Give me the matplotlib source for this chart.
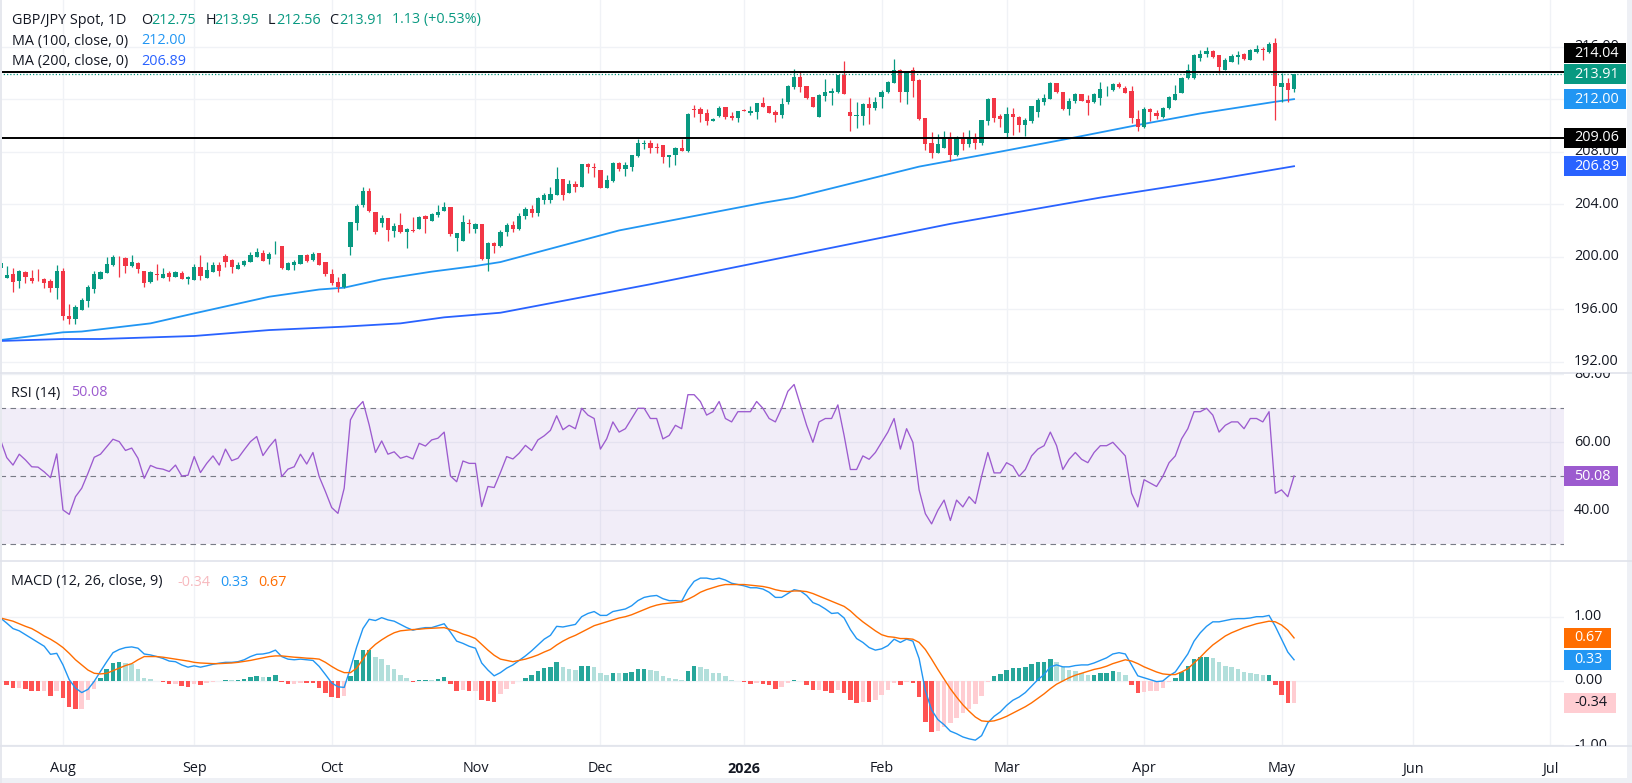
import matplotlib.pyplot as plt
import matplotlib.patches as mpatches
from matplotlib.lines import Line2D
from matplotlib.transforms import IdentityTransform, Bbox, TransformedBbox
import numpy as np
import pandas as pd

plt.rcParams['font.family'] = ['Open Sans', 'DejaVu Sans']

W, H = 1632, 783
DPI = 100
RIGHT = 1564          # right edge of the panes, px
FS = 10.4
TXT = '#131722'
GREEN = '#089981'
RED = '#f23645'

# ---------------- data (daily bars, 2025-07-18 .. 2026-05-05) ----------------
opens = [
    199.11, 198.40, 198.68, 198.15, 198.86, 198.37, 198.22, 198.30, 198.17, 197.64,
    198.91, 195.48, 195.23, 195.96, 196.65, 197.56, 198.30, 198.78, 199.36, 199.92,
    199.90, 199.29, 199.52, 198.93, 198.07, 198.68, 198.40, 198.75, 198.48, 198.75,
    198.27, 198.25, 199.21, 198.40, 198.86, 199.36, 200.05, 199.74, 199.08, 199.36,
    199.59, 199.95, 200.25, 199.85, 200.40, 200.81, 199.01, 199.39, 199.46, 200.13,
    199.74, 200.25, 199.59, 198.68, 198.10, 197.66, 200.76, 202.59, 203.90, 205.00,
    203.38, 202.59, 202.92, 201.98, 202.41, 201.90, 202.03, 202.08, 203.12, 202.74,
    203.17, 203.50, 203.76, 201.40, 201.22, 202.59, 202.13, 202.49, 199.82, 201.07,
    200.84, 201.85, 202.40, 202.10, 203.10, 203.60, 203.30, 204.30, 204.35, 204.70,
    205.92, 204.87, 205.53, 205.33, 207.06, 206.83, 206.60, 205.25, 205.79, 207.11,
    206.65, 206.85, 207.69, 208.61, 208.66, 208.33, 208.50, 207.57, 207.72, 208.28,
    208.07, 211.22, 211.27, 210.94, 210.36, 210.69, 211.40, 210.74, 210.56, 211.17,
    210.92, 211.04, 211.73, 211.47, 211.04, 210.79, 211.81, 212.95, 213.71, 213.00,
    212.19, 210.66, 212.24, 212.49, 212.52, 213.84, 210.99, 210.74, 210.74, 211.63,
    211.35, 212.19, 212.54, 213.25, 214.22, 212.57, 214.22, 213.46, 210.54, 208.63,
    207.92, 208.30, 209.14, 207.74, 208.96, 208.58, 209.06, 208.68, 210.36, 212.06,
    210.71, 209.39, 210.86, 210.61, 210.02, 210.35, 211.04, 211.80, 212.00, 213.20,
    212.56, 211.24, 211.88, 212.39, 211.93, 211.75, 212.11, 212.82, 212.69, 213.15,
    212.87, 212.61, 210.46, 209.90, 211.24, 210.91, 210.61, 211.29, 211.93, 212.44,
    213.58, 213.63, 215.15, 215.43, 215.66, 215.36, 214.21, 214.85, 215.23, 215.43,
    214.97, 215.59, 215.81, 215.61, 216.30, 212.94, 213.25, 212.75,
]
highs = [
    199.80, 199.29, 199.11, 198.98, 198.93, 198.98, 199.03, 198.40, 198.27, 199.36,
    199.11, 196.39, 196.32, 196.88, 197.84, 198.91, 198.91, 199.95, 200.13, 200.05,
    200.00, 200.13, 199.62, 198.93, 198.93, 199.44, 199.11, 198.91, 198.93, 198.93,
    198.55, 199.44, 200.13, 199.62, 199.62, 199.62, 200.20, 199.80, 199.57, 199.74,
    200.33, 200.68, 200.51, 200.38, 201.19, 200.81, 199.62, 199.74, 200.13, 200.18,
    200.38, 200.25, 199.62, 199.03, 198.47, 198.73, 202.66, 204.01, 205.30, 205.20,
    203.38, 203.17, 202.92, 202.59, 203.35, 202.16, 203.05, 203.10, 203.17, 203.30,
    203.93, 204.19, 203.76, 201.78, 203.17, 202.84, 202.59, 202.49, 201.09, 201.14,
    202.00, 202.60, 202.70, 203.30, 203.80, 203.90, 204.57, 204.82, 205.33, 206.85,
    205.92, 205.84, 205.79, 207.06, 207.16, 207.16, 206.60, 206.22, 207.21, 207.24,
    207.24, 207.74, 208.94, 208.89, 208.89, 208.63, 208.50, 207.74, 208.38, 208.99,
    210.97, 211.55, 211.42, 211.22, 210.59, 211.47, 211.40, 211.04, 211.12, 211.22,
    211.47, 211.73, 212.19, 211.47, 211.17, 212.06, 213.07, 214.29, 214.14, 213.00,
    212.19, 212.36, 213.51, 212.82, 213.84, 214.90, 212.06, 211.75, 211.68, 212.19,
    212.19, 212.69, 213.40, 215.03, 214.27, 214.17, 214.42, 213.51, 210.54, 209.47,
    209.34, 209.60, 209.52, 209.19, 209.52, 209.65, 209.39, 210.41, 212.06, 212.06,
    210.84, 211.42, 211.34, 210.71, 210.53, 211.47, 212.06, 212.39, 213.33, 213.25,
    212.56, 212.06, 212.44, 212.39, 212.31, 212.44, 213.33, 212.99, 213.20, 213.33,
    212.99, 212.99, 211.17, 211.37, 211.29, 211.17, 211.37, 212.23, 213.07, 213.71,
    214.65, 215.41, 215.74, 215.94, 215.74, 215.36, 215.10, 215.43, 215.69, 215.48,
    215.81, 216.12, 215.99, 216.32, 216.68, 214.01, 213.58, 213.95,
]
lows = [
    199.11, 198.40, 197.33, 197.64, 198.02, 198.02, 198.17, 197.64, 197.33, 196.80,
    195.17, 194.87, 194.87, 195.96, 196.14, 197.26, 198.30, 198.78, 199.29, 198.47,
    198.78, 199.24, 198.73, 197.71, 198.02, 198.22, 198.40, 198.17, 198.42, 198.30,
    197.89, 198.25, 198.22, 198.40, 198.81, 198.55, 199.24, 198.73, 199.08, 199.31,
    199.59, 199.95, 199.69, 199.41, 200.18, 199.06, 198.98, 199.01, 199.41, 199.62,
    199.69, 199.34, 198.55, 197.84, 197.33, 197.64, 200.13, 202.03, 203.80, 203.40,
    201.72, 202.28, 201.22, 201.52, 201.78, 200.63, 201.90, 202.08, 201.83, 202.74,
    203.05, 203.50, 201.57, 200.46, 201.22, 201.78, 201.83, 199.75, 198.93, 200.25,
    200.70, 201.60, 201.90, 202.00, 202.90, 203.00, 203.10, 204.00, 204.10, 204.70,
    204.32, 204.87, 204.95, 205.33, 206.40, 206.09, 205.20, 205.25, 205.71, 206.52,
    206.17, 206.55, 207.62, 208.23, 207.92, 207.92, 207.11, 206.80, 206.98, 208.02,
    207.99, 210.66, 210.28, 210.03, 210.36, 210.66, 210.46, 210.41, 210.28, 211.09,
    210.79, 210.48, 211.37, 210.92, 210.28, 210.59, 211.63, 212.74, 212.57, 211.98,
    211.42, 210.66, 211.88, 211.55, 212.44, 212.41, 209.57, 209.82, 210.03, 210.08,
    211.17, 211.30, 212.44, 213.20, 211.81, 211.63, 212.19, 210.41, 208.12, 207.54,
    207.92, 208.30, 207.29, 207.69, 208.12, 208.38, 208.17, 208.50, 210.03, 210.28,
    209.85, 209.06, 209.26, 209.52, 209.21, 210.15, 210.61, 211.55, 212.00, 212.44,
    211.17, 210.79, 211.67, 211.88, 210.79, 211.67, 211.55, 212.23, 212.64, 212.82,
    212.44, 210.15, 209.59, 209.77, 210.35, 210.46, 210.53, 211.24, 211.93, 212.44,
    213.53, 213.53, 214.92, 215.23, 215.15, 214.01, 214.21, 214.80, 214.65, 214.97,
    214.97, 215.53, 214.97, 215.53, 210.41, 211.80, 211.80, 212.56,
]
closes = [
    199.49, 198.60, 198.10, 198.91, 198.45, 198.17, 198.20, 197.97, 197.64, 198.91,
    195.50, 195.23, 196.14, 196.70, 197.66, 198.68, 198.86, 199.44, 199.95, 199.87,
    199.31, 199.59, 199.08, 198.02, 198.83, 198.63, 198.68, 198.45, 198.83, 198.30,
    198.45, 199.21, 198.53, 198.98, 199.36, 198.93, 199.62, 199.21, 199.36, 199.67,
    200.13, 200.35, 199.69, 200.20, 200.43, 199.14, 199.49, 199.59, 200.13, 199.69,
    200.20, 199.39, 198.70, 198.02, 197.66, 198.68, 202.66, 203.86, 205.00, 203.50,
    201.85, 202.92, 202.03, 202.33, 201.90, 202.10, 201.98, 202.99, 202.84, 203.22,
    203.40, 203.76, 201.70, 201.78, 202.64, 202.46, 202.49, 199.80, 201.07, 200.84,
    201.85, 202.40, 202.10, 203.10, 203.60, 203.30, 204.44, 204.67, 204.77, 205.92,
    204.70, 205.53, 205.33, 207.06, 206.80, 206.73, 205.25, 205.84, 207.16, 206.65,
    206.98, 207.74, 208.63, 208.66, 208.30, 208.28, 207.57, 207.74, 208.30, 208.07,
    210.87, 211.17, 210.89, 210.36, 210.48, 211.32, 210.66, 210.56, 211.09, 211.12,
    211.12, 211.73, 211.42, 210.97, 210.79, 211.63, 213.00, 213.71, 212.95, 212.06,
    211.42, 212.31, 212.57, 212.64, 213.84, 212.41, 210.74, 210.79, 211.63, 211.35,
    211.78, 212.57, 213.30, 214.22, 212.57, 214.04, 213.40, 210.49, 208.58, 207.92,
    208.56, 209.14, 207.74, 209.14, 208.58, 209.09, 208.68, 210.41, 212.01, 210.59,
    210.46, 210.86, 210.61, 210.02, 210.41, 211.47, 211.93, 212.11, 213.25, 212.51,
    211.24, 211.88, 212.39, 211.88, 211.72, 212.39, 212.74, 212.87, 213.15, 212.94,
    212.49, 210.53, 209.85, 211.24, 211.04, 210.73, 211.29, 212.13, 212.39, 213.58,
    214.21, 215.36, 215.43, 215.66, 215.23, 214.47, 214.98, 215.28, 215.36, 215.05,
    215.74, 215.81, 215.76, 216.19, 212.99, 213.25, 212.69, 213.91,
]

# moving averages, read at a set of bars
ma100_bars = [0, 10, 13, 24, 31, 43, 51, 55, 61, 69, 76, 80, 99, 122, 127, 147, 160, 172, 182, 192, 204, 207]
ma100_vals = [193.65, 194.24, 194.30, 194.92, 195.68, 196.95, 197.50, 197.64, 198.27, 198.86, 199.29,
              199.59, 202.00, 204.10, 204.50, 206.86, 208.00, 209.09, 210.03, 210.91, 211.80, 212.00]
ma200_bars = [0, 10, 16, 31, 43, 55, 64, 71, 80, 104, 128, 152, 176, 194, 207]
ma200_vals = [193.58, 193.73, 193.73, 193.96, 194.41, 194.67, 194.92, 195.38, 195.73,
              197.90, 200.20, 202.50, 204.50, 205.84, 206.89]

levels = [214.04, 209.06]

rsi = [
    60.7, 55.5, 53.3, 56.5, 54.8, 52.8, 52.7, 51.3, 49.6, 56.6,
    40.1, 38.8, 44.0, 46.5, 50.9, 55.6, 56.5, 58.7, 60.9, 60.2,
    57.6, 58.3, 55.3, 49.4, 53.2, 52.4, 52.1, 51.4, 53.3, 50.1,
    50.3, 55.8, 51.1, 53.8, 56.0, 53.3, 58.0, 54.6, 55.3, 57.8,
    60.2, 61.7, 56.1, 58.7, 60.9, 49.9, 52.1, 52.8, 56.5, 53.6,
    57.0, 49.9, 45.5, 40.8, 39.1, 46.5, 66.6, 70.0, 72.0, 65.1,
    57.0, 60.4, 56.5, 57.2, 55.3, 55.9, 55.1, 59.7, 58.9, 60.7,
    61.2, 63.0, 50.1, 48.4, 54.5, 53.8, 53.8, 41.1, 47.0, 46.7,
    51.1, 55.8, 55.1, 56.8, 59.1, 57.6, 60.7, 61.9, 63.5, 67.8,
    63.7, 65.0, 64.0, 70.0, 68.0, 67.0, 58.0, 61.0, 66.0, 63.0,
    64.0, 67.0, 70.0, 70.0, 67.0, 67.0, 61.0, 62.0, 65.0, 64.0,
    74.0, 74.0, 72.0, 68.0, 69.0, 72.0, 67.0, 66.0, 69.0, 69.0,
    69.0, 72.0, 70.0, 67.0, 66.0, 70.0, 75.0, 77.0, 71.0, 65.0,
    60.0, 66.0, 67.0, 67.0, 71.0, 62.0, 52.0, 52.0, 56.0, 55.0,
    57.0, 60.0, 63.0, 67.0, 58.0, 64.0, 60.0, 46.0, 39.0, 36.0,
    40.0, 43.0, 37.0, 43.0, 41.0, 44.0, 42.0, 50.0, 57.0, 51.0,
    51.0, 54.0, 53.0, 50.0, 52.0, 56.0, 58.0, 59.0, 63.0, 59.0,
    52.0, 55.0, 57.0, 55.0, 54.0, 57.0, 59.0, 59.0, 60.0, 58.0,
    56.0, 45.0, 41.0, 49.0, 48.0, 47.0, 50.0, 54.0, 56.0, 61.0,
    64.0, 69.0, 69.0, 70.0, 68.0, 63.0, 65.0, 66.0, 66.0, 64.0,
    67.0, 67.0, 66.0, 69.0, 45.0, 46.0, 44.0, 50.08,
]

macd = [
    0.98, 0.90, 0.815, 0.78, 0.72, 0.66, 0.60, 0.54, 0.415, 0.43,
    0.25, 0.02, -0.11, -0.18, -0.13, -0.005, 0.15, 0.30, 0.44, 0.49,
    0.52, 0.53, 0.51, 0.42, 0.405, 0.38, 0.35, 0.31, 0.30, 0.25,
    0.215, 0.236, 0.215, 0.236, 0.26, 0.277, 0.29, 0.29, 0.30, 0.33,
    0.38, 0.415, 0.42, 0.44, 0.48, 0.38, 0.34, 0.33, 0.34, 0.33,
    0.32, 0.226, 0.10, -0.03, -0.09, -0.10, 0.20, 0.53, 0.815, 0.96,
    0.94, 0.985, 0.95, 0.93, 0.88, 0.83, 0.79, 0.815, 0.83, 0.83,
    0.86, 0.89, 0.76, 0.62, 0.585, 0.54, 0.51, 0.28, 0.17, 0.08,
    0.13, 0.20, 0.25, 0.32, 0.39, 0.47, 0.56, 0.65, 0.71, 0.85,
    0.84, 0.86, 0.88, 1.00, 1.05, 1.08, 1.02, 1.02, 1.08, 1.10,
    1.12, 1.17, 1.25, 1.30, 1.32, 1.33, 1.28, 1.25, 1.25, 1.24,
    1.42, 1.55, 1.60, 1.60, 1.58, 1.60, 1.57, 1.52, 1.50, 1.48,
    1.45, 1.45, 1.43, 1.38, 1.30, 1.30, 1.36, 1.42, 1.40, 1.33,
    1.22, 1.18, 1.12, 1.05, 1.06, 0.98, 0.80, 0.66, 0.60, 0.52,
    0.48, 0.50, 0.55, 0.65, 0.60, 0.65, 0.62, 0.35, -0.15, -0.45,
    -0.60, -0.68, -0.78, -0.82, -0.87, -0.90, -0.92, -0.85, -0.65, -0.55,
    -0.48, -0.38, -0.30, -0.25, -0.18, -0.08, 0.02, 0.10, 0.22, 0.25,
    0.22, 0.22, 0.24, 0.25, 0.25, 0.28, 0.32, 0.36, 0.42, 0.44,
    0.42, 0.25, 0.08, 0.05, 0.02, -0.01, 0.00, 0.08, 0.14, 0.28,
    0.42, 0.62, 0.75, 0.85, 0.92, 0.92, 0.94, 0.96, 0.97, 0.97,
    0.98, 1.00, 1.00, 1.02, 0.85, 0.65, 0.45, 0.33,
]
signal = [
    0.98, 0.955, 0.93, 0.89, 0.85, 0.815, 0.76, 0.70, 0.65, 0.59,
    0.52, 0.43, 0.33, 0.25, 0.17, 0.12, 0.11, 0.12, 0.16, 0.20,
    0.24, 0.27, 0.33, 0.38, 0.38, 0.38, 0.37, 0.355, 0.34, 0.325,
    0.31, 0.29, 0.28, 0.275, 0.27, 0.27, 0.275, 0.28, 0.29, 0.305,
    0.32, 0.34, 0.36, 0.38, 0.39, 0.39, 0.38, 0.37, 0.364, 0.355,
    0.35, 0.34, 0.29, 0.226, 0.17, 0.13, 0.13, 0.20, 0.34, 0.48,
    0.57, 0.64, 0.70, 0.75, 0.78, 0.79, 0.80, 0.805, 0.815, 0.82,
    0.825, 0.83, 0.80, 0.77, 0.73, 0.70, 0.66, 0.57, 0.48, 0.40,
    0.34, 0.32, 0.30, 0.32, 0.34, 0.37, 0.405, 0.45, 0.49, 0.56,
    0.62, 0.67, 0.71, 0.76, 0.81, 0.86, 0.89, 0.92, 0.95, 0.98,
    1.00, 1.03, 1.07, 1.11, 1.15, 1.18, 1.20, 1.21, 1.22, 1.23,
    1.27, 1.32, 1.38, 1.42, 1.45, 1.48, 1.50, 1.50, 1.50, 1.50,
    1.49, 1.48, 1.47, 1.45, 1.42, 1.40, 1.39, 1.40, 1.40, 1.39,
    1.36, 1.32, 1.28, 1.24, 1.20, 1.16, 1.09, 1.00, 0.92, 0.85,
    0.78, 0.72, 0.69, 0.68, 0.66, 0.66, 0.65, 0.60, 0.49, 0.34,
    0.18, 0.03, -0.12, -0.25, -0.37, -0.47, -0.56, -0.62, -0.63, -0.62,
    -0.59, -0.55, -0.50, -0.45, -0.40, -0.34, -0.27, -0.20, -0.12, -0.05,
    0.00, 0.05, 0.09, 0.12, 0.15, 0.18, 0.20, 0.23, 0.27, 0.30,
    0.33, 0.31, 0.27, 0.22, 0.18, 0.14, 0.11, 0.10, 0.10, 0.14,
    0.19, 0.28, 0.37, 0.47, 0.56, 0.63, 0.70, 0.75, 0.79, 0.83,
    0.86, 0.89, 0.91, 0.93, 0.92, 0.87, 0.79, 0.67,
]

# ---------------- figure ----------------
fig = plt.figure(figsize=(W / DPI, H / DPI), dpi=DPI)
fig.patch.set_facecolor('white')
PX = IdentityTransform()


def pane(top, bottom):
    ax = fig.add_axes([0, 1 - bottom / H, RIGHT / W, (bottom - top) / H])
    ax.set_xlim(-0.08, 250.2)
    for s in ax.spines.values():
        s.set_visible(False)
    ax.set_xticks([])
    ax.set_yticks([])
    return ax


ax_p = pane(0, 373)
ax_r = pane(373, 561)
ax_m = pane(561, 746)
ax_p.set_ylim(191.14, 219.55)
ax_r.set_ylim(25.09, 80.38)
ax_m.set_ylim(-1.011, 1.866)

idx = np.arange(len(closes))
days = pd.bdate_range('2025-07-18', '2026-07-31')
month_pos = [i for i in range(1, len(days)) if days[i].month != days[i - 1].month]

GRID = '#f0f2f6'
for ax in (ax_p, ax_r, ax_m):
    for m in month_pos:
        ax.axvline(m, color=GRID, lw=1, zorder=0)
for t in range(192, 220, 4):
    ax_p.axhline(t, color=GRID, lw=1, zorder=0)
for t in (40, 60, 80):
    ax_r.axhline(t, color=GRID, lw=1, zorder=0)
for t in (-1, 0, 1):
    ax_m.axhline(t, color=GRID, lw=1, zorder=0)

# ---- price pane ----
o, hi, lo, c = map(np.array, (opens, highs, lows, closes))
col = np.where(c >= o, GREEN, RED)
ax_p.vlines(idx, lo, hi, colors=col, lw=0.9, zorder=3)
ax_p.bar(idx, np.maximum(np.abs(c - o), 0.035), bottom=np.minimum(o, c), width=0.68,
         color=col, lw=0, zorder=4)
ax_p.plot(ma100_bars, ma100_vals, color='#2196f3', lw=1.3, zorder=2)
ax_p.plot(ma200_bars, ma200_vals, color='#2962ff', lw=1.3, zorder=2)
for lv in levels:
    ax_p.axhline(lv, color='black', lw=1.4, zorder=5)
ax_p.axhline(closes[-1], color=GREEN, lw=0.9, ls=(0, (1, 1.6)), zorder=5)

# ---- RSI pane ----
RSI_C = '#9c5bcf'
ax_r.axhspan(30, 70, color='#7e57c2', alpha=0.1, lw=0, zorder=0)
for lv in (70, 50, 30):
    ax_r.axhline(lv, color='#787b86', lw=0.8, ls=(0, (5, 4)), zorder=1)
ax_r.plot(idx, rsi, color=RSI_C, lw=0.95, zorder=3)

# ---- MACD pane ----
macd_a = np.array(macd)
sig_a = np.array(signal)
hist = macd_a - sig_a
prev = np.concatenate([[hist[0]], hist[:-1]])
hcol = np.where(hist >= 0, np.where(hist >= prev, '#26a69a', '#b2dfdb'),
                np.where(hist < prev, '#ff5252', '#ffcdd2'))
ax_m.bar(idx, hist, width=0.72, color=hcol, lw=0, zorder=2)
ax_m.plot(idx, macd_a, color='#2196f3', lw=1.0, zorder=3)
ax_m.plot(idx, sig_a, color='#ff6d00', lw=1.0, zorder=3)


# ---------------- texts ----------------
def ptext(x, y, s, color=TXT, **kw):
    return fig.text(x, H - y, s, transform=PX, color=color, va='center', ha='left',
                    fontsize=FS, **kw)


# separators and frame
for y in (373, 561, 746):
    fig.add_artist(Line2D([0, W], [H - y, H - y], transform=PX, color='#e0e3eb', lw=1.2))
fig.add_artist(mpatches.Rectangle((0, 0), W, 5, transform=PX, color='#eef0f5', lw=0))
fig.add_artist(mpatches.Rectangle((W - 5, 0), 5, H, transform=PX, color='#eef0f5', lw=0))
fig.add_artist(mpatches.Rectangle((0, 0), 1.5, H, transform=PX, color='#e6e8ee', lw=0))

# legends
ptext(11.5, 20, 'GBP/JPY Spot, 1D')
for x_l, x_v, lab, val in ((141, 151, 'O', '212.75'), (206, 214.5, 'H', '213.95'),
                           (268, 276.5, 'L', '212.56'), (329, 339, 'C', '213.91')):
    ptext(x_l, 20, lab)
    ptext(x_v, 20, val, GREEN)
ptext(392.5, 20, '1.13 (+0.53%)', GREEN)
ptext(11.5, 41, 'MA (100, close, 0)')
ptext(141.7, 41, '212.00', '#2196f3')
ptext(11.5, 61.5, 'MA (200, close, 0)')
ptext(141.7, 61.5, '206.89', '#2962ff')
ptext(10.7, 393, 'RSI (14)')
ptext(71.4, 393, '50.08', RSI_C)
ptext(10.7, 582, 'MACD (12, 26, close, 9)')
ptext(177.5, 582, '-0.34', '#f7b9be')
ptext(220.7, 582, '0.33', '#2196f3')
ptext(257.9, 582, '0.67', '#ff6d00')


def ypx(ax, v):
    return ax.transData.transform((0, v))[1]


def axis_labels(ax, ticks, top, bottom):
    clip = TransformedBbox(Bbox([[RIGHT, H - bottom], [W, H - top]]), PX)
    for t in ticks:
        tx = fig.text(1574, ypx(ax, t), '%.2f' % t, transform=PX, color=TXT,
                      va='center', ha='left', fontsize=FS)
        tx.set_clip_box(clip)
        tx.set_clip_on(True)


y_close = ypx(ax_p, closes[-1])
# 216.00 sits mostly behind the stacked 214.04 badge: show only the sliver above it
axis_labels(ax_p, [216], 0, H - (y_close + 31))
axis_labels(ax_p, range(192, 216, 4), 0, 373)
axis_labels(ax_r, (40, 60, 80), 373, 561)
axis_labels(ax_m, (-1, 0, 1), 561, 746)


def badge(y, s, face, width, tcolor='white'):
    fig.add_artist(mpatches.Rectangle((RIGHT, y - 10), width, 20, transform=PX,
                                      facecolor=face, lw=0, zorder=5))
    fig.text(1574, y, s, transform=PX, color=tcolor, va='center', ha='left',
             fontsize=FS, zorder=6)


badge(y_close + 21, '214.04', 'black', 62)
badge(y_close, '213.91', GREEN, 62)
badge(ypx(ax_p, 212.00), '212.00', '#2196f3', 62)
badge(ypx(ax_p, 209.06), '209.06', 'black', 62)
badge(ypx(ax_p, 206.89), '206.89', '#2962ff', 62)
badge(ypx(ax_r, rsi[-1]), '50.08', RSI_C, 54)
badge(ypx(ax_m, signal[-1]), '0.67', '#ff6d00', 47)
badge(ypx(ax_m, macd[-1]), '0.33', '#2196f3', 47)
badge(ypx(ax_m, hist[-1]), '-0.34', '#ffcdd2', 52, TXT)

# month labels
for m in month_pos:
    d = days[m]
    x = ax_m.transData.transform((m, 0))[0]
    if x > RIGHT:
        continue
    if d.month == 1:
        fig.text(x, H - 769, str(d.year), transform=PX, color=TXT, ha='center',
                 va='center', fontsize=FS, fontweight='bold')
    else:
        fig.text(x, H - 769, d.strftime('%b'), transform=PX, color=TXT, ha='center',
                 va='center', fontsize=FS)

fig.savefig('out.png', dpi=DPI, facecolor='white')
